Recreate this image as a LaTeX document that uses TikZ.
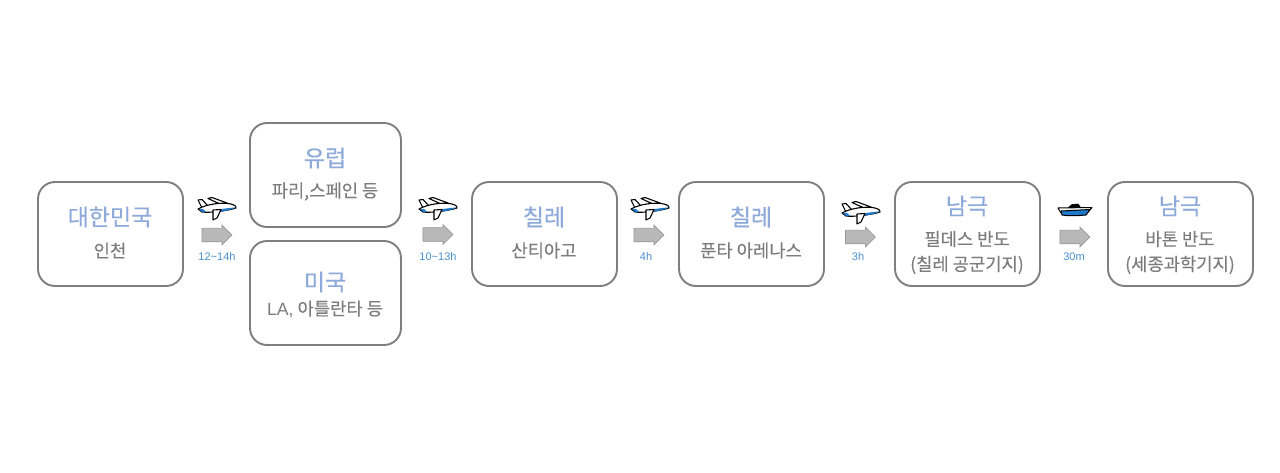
\documentclass[tikz,border=0pt]{standalone}
\usepackage{fontspec}
\setmainfont{Noto Sans CJK KR}
\newfontfamily\titlefont[FakeBold=0.25]{Noto Sans CJK KR}
\newfontfamily\subfont[FakeBold=0.1]{Noto Sans CJK KR}
\newfontfamily\latinfont{Liberation Sans}
\usetikzlibrary{shapes.arrows}
\definecolor{boxline}{HTML}{7F7F7F}
\definecolor{titleblue}{HTML}{8EAADB}
\definecolor{subgray}{HTML}{7C7C7C}
\definecolor{timeblue}{HTML}{4A90D0}
\definecolor{arrowgray}{HTML}{B8B8B8}
\definecolor{iconblue}{HTML}{1F78C8}
\tikzset{
  x=1pt,y=-1pt,
  placebox/.style={draw=boxline,line width=1.9pt,rounded corners=17pt,fill=white,anchor=north west,inner sep=0pt,outer sep=0pt},
  titletext/.style={text=titleblue,font=\titlefont\fontsize{23}{23}\selectfont,inner sep=0pt,anchor=center},
  subtext/.style={text=subgray,font=\subfont\fontsize{17.7}{17.7}\selectfont,inner sep=0pt,anchor=center},
  timetext/.style={text=timeblue,font=\latinfont\fontsize{11}{11}\selectfont,inner sep=0pt,anchor=center},
  moveArrow/.style={single arrow,draw=boxline!80,line width=.7pt,fill=arrowgray,minimum width=19pt,minimum height=30pt,
    single arrow head extend=3pt,single arrow tip angle=90,inner sep=0pt,outer sep=0pt,anchor=center},
  plane/.pic={
    \begin{scope}[line width=1.1pt,draw=black,line join=round]
      % tail fin
      \filldraw[fill=white] (-19,-7) -- (-15,-7.5) -- (-9,-1) -- (-15,1) -- cycle;
      % upper wing
      \filldraw[fill=white] (3,-3) -- (-9,-8.5) -- (-5,-9.5) -- (10,-4) -- cycle;
      % fuselage
      \filldraw[fill=white] (-19,2) .. controls (-10,-3) and (5,-5) .. (14,-3) .. controls (18,-2) and (20,0) .. (19,1) .. controls (10,4) and (-8,6) .. (-15,5) -- cycle;
      % blue belly
      \fill[iconblue] (-18,2) .. controls (-14,1) and (-12.5,3) .. (-11,5) -- (-15,5) -- cycle;
      \fill[iconblue] (1,2.5) .. controls (9,1.5) and (15,.5) .. (19,.5) .. controls (12,3.5) and (6,4.5) .. (1,5) -- cycle;
      % lower wing
      \filldraw[fill=white] (-4,3) -- (4,2.5) -- (0,11) -- (-4,13) -- cycle;
    \end{scope}
  },
  boat/.pic={
    \begin{scope}[line join=round]
      \filldraw[fill=black,draw=black,line width=.6pt] (-7,-2) -- (-3,-5.5) -- (3,-6) -- (6,-2) -- cycle;
      \filldraw[fill=white,draw=black,line width=1pt] (-17,-2) -- (17,-2.5) -- (13,2) -- (-14,3) -- cycle;
      \filldraw[fill=iconblue,draw=black,line width=1pt] (-14,1) -- (15,-.5) -- (11,5) .. controls (0,6) and (-8,6) .. (-13,5) -- cycle;
    \end{scope}
  }
}
\newcommand{\shaft}{\rule{0pt}{13pt}}
\begin{document}
\begin{tikzpicture}
\useasboundingbox (0,0) rectangle (1280,473);
\fill[white] (0,0) rectangle (1280,473);

% boxes
\node[placebox,minimum width=145pt,minimum height=104pt] (b1) at (38,182) {};
\node[placebox,minimum width=151pt,minimum height=104pt] (b2) at (250,123) {};
\node[placebox,minimum width=151pt,minimum height=104pt] (b3) at (250,241) {};
\node[placebox,minimum width=145pt,minimum height=104pt] (b4) at (472,182) {};
\node[placebox,minimum width=145pt,minimum height=104pt] (b5) at (679,182) {};
\node[placebox,minimum width=145pt,minimum height=104pt] (b6) at (895,182) {};
\node[placebox,minimum width=145pt,minimum height=104pt] (b7) at (1108,182) {};

% texts
\node[titletext] (t1) at (110,217) {대한민국};
\node[subtext] (s1) at (110,250.5) {인천};
\node[titletext] (t2) at (325,158) {유럽};
\node[subtext] (s2) at (325,191.5) {파리,스페인 등};
\node[titletext] (t3) at (325,282) {미국};
\node[subtext] (s3) at (325,309) {{\latinfont LA,} 아틀란타 등};
\node[titletext] (t4) at (544,217) {칠레};
\node[subtext] (s4) at (544,250.5) {산티아고};
\node[titletext] (t5) at (751,217) {칠레};
\node[subtext] (s5) at (751,250.5) {푼타 아레나스};
\node[titletext] (t6) at (967,206) {남극};
\node[subtext] (s6a) at (967,239) {필데스 반도};
\node[subtext] (s6b) at (967,265) {(칠레 공군기지)};
\node[titletext] (t7) at (1180,206) {남극};
\node[subtext] (s7a) at (1180,239) {바톤 반도};
\node[subtext] (s7b) at (1180,265) {(세종과학기지)};

% icons
\pic at (217,207) {plane};
\pic at (438,207) {plane};
\pic at (650,207) {plane};
\pic at (861,211) {plane};
\pic at (1075,210) {boat};

% arrows
\node[moveArrow] (a1) at (213.5,235) {\shaft};
\node[moveArrow] (a2) at (434.5,234.5) {\shaft};
\node[moveArrow] (a3) at (645.5,235) {\shaft};
\node[moveArrow] (a4) at (857,237) {\shaft};
\node[moveArrow] (a5) at (1071.5,237) {\shaft};

% times
\node[timetext] (l1) at (217,256.5) {12\textasciitilde14h};
\node[timetext] (l2) at (438,256.5) {10\textasciitilde13h};
\node[timetext] (l3) at (646,256.5) {4h};
\node[timetext] (l4) at (858,256.5) {3h};
\node[timetext] (l5) at (1074,256.5) {30m};
\end{tikzpicture}
\end{document}
